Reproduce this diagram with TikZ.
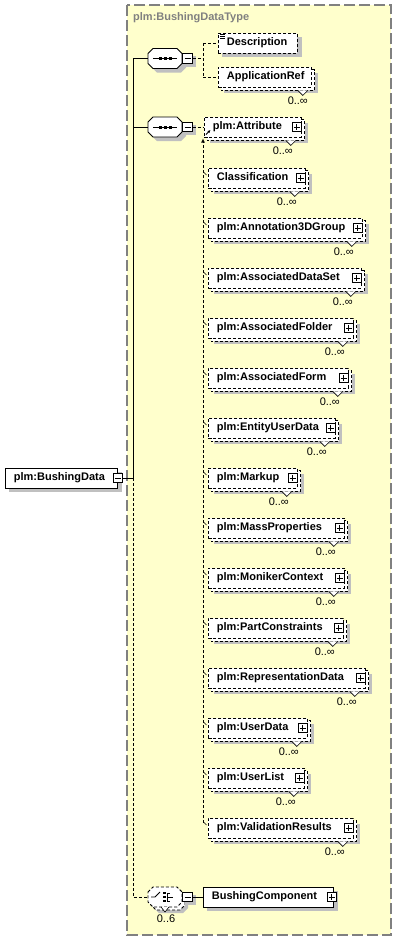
\documentclass[tikz,border=0pt]{standalone}
\usepackage{fontspec}
\setmainfont{Liberation Sans}
\usetikzlibrary{calc,arrows.meta}
\pgfdeclarelayer{bg}
\pgfdeclarelayer{shad}
\pgfsetlayers{bg,shad,main}
\definecolor{ylw}{HTML}{FFFFCC}
\definecolor{shd}{HTML}{C0C0C0}
\definecolor{brd}{HTML}{808080}
\newcommand\octo[3]{\path[#1,shift={(#2,#3)}] (-17,-5) -- (-12,-10) -- (12,-10) -- (17,-5) -- (17,5) -- (12,10) -- (-12,10) -- (-17,5) -- cycle;}
\begin{document}
\begin{tikzpicture}[x=1pt,y=-1pt,
  lbl/.style={font=\bfseries\fontsize{11}{13}\selectfont, text height=8pt, text depth=2.5pt},
  ebox/.style={lbl, fill=white, draw, line width=0.8pt, anchor=west, minimum height=20pt, inner xsep=8.5pt, inner ysep=0pt, align=left},
  opt/.style={dash pattern=on 3pt off 2pt},
  pm/.style={draw, fill=white, solid, line width=0.7pt, minimum size=9.5pt, inner sep=0pt},
  card/.style={font=\fontsize{11}{13}\selectfont, inner sep=0pt},
  conn/.style={line width=0.8pt},
  notch/.style={fill=white, draw, line width=0.6pt, solid}]
% background
\begin{pgfonlayer}{bg}
\fill[white] (0,0) rectangle (396,940);
\filldraw[fill=ylw, draw=brd, line width=1.2pt, dash pattern=on 11pt off 4pt] (127,5) rectangle (391,935);
\end{pgfonlayer}
\node[lbl, text=brd, anchor=west, inner sep=0pt] (title) at (133,18) {plm:BushingDataType};

% root element
\node[ebox, text width=95pt] (root) at (5,478) {plm:BushingData};
\begin{pgfonlayer}{shad}
\fill[shd] ($(root.north west)+(4,4)$) rectangle ($(root.south east)+(4,4)$);
\end{pgfonlayer}
\node[pm] (rootm) at (root.east) {};
\draw[line width=0.7pt] ($(rootm.center)+(-3,0)$) -- ++(6,0);

% spine
\coordinate (spA) at (133,58.5);
\coordinate (spB) at (133,127);
\coordinate (spR) at (133,478);
\coordinate (spC) at (133,897);

% sequence 1
\begin{pgfonlayer}{shad}\octo{fill=shd}{169}{62.5}\end{pgfonlayer}
\octo{fill=white,draw,conn}{165}{58.5}
\node[minimum width=34pt, minimum height=20pt, inner sep=0pt] (sq1) at (165,58.5) {};
\draw[conn] (153,58.5) -- (177,58.5);
\foreach \xx in {160,165,170} \fill (\xx-1.5,57) rectangle (\xx+1.5,60);
\node[pm] (sq1m) at (187.5,58.5) {};
\begin{pgfonlayer}{shad}\fill[shd] ($(sq1m.north west)+(3,3)$) rectangle ($(sq1m.south east)+(3,3)$);\end{pgfonlayer}
\draw[line width=0.7pt] ($(sq1m.center)+(-3,0)$) -- ++(6,0);

% sequence 2
\begin{pgfonlayer}{shad}\octo{fill=shd}{169}{131}\end{pgfonlayer}
\octo{fill=white,draw,conn}{165}{127}
\node[minimum width=34pt, minimum height=20pt, inner sep=0pt] (sq2) at (165,127) {};
\draw[conn] (153,127) -- (177,127);
\foreach \xx in {160,165,170} \fill (\xx-1.5,125.5) rectangle (\xx+1.5,128.5);
\node[pm] (sq2m) at (187.5,127) {};
\begin{pgfonlayer}{shad}\fill[shd] ($(sq2m.north west)+(3,3)$) rectangle ($(sq2m.south east)+(3,3)$);\end{pgfonlayer}
\draw[line width=0.7pt] ($(sq2m.center)+(-3,0)$) -- ++(6,0);

% choice
\begin{pgfonlayer}{shad}
\octo{fill=shd}{171}{903}
\octo{fill=white,draw,conn,opt}{168}{900}
\end{pgfonlayer}
\octo{fill=white,draw,conn,opt}{165}{897}
\node[minimum width=34pt, minimum height=20pt, inner sep=0pt] (ch) at (165,897) {};
\draw[notch] (161,907) -- (165,912) -- (169,907);
\draw[conn] (151,897) -- (155,897) -- (160,892);
\foreach \yy in {893,897,901} \fill (162.5,\yy-1.3) rectangle (165.5,\yy+1.3);
\draw[line width=0.7pt] (167,893) -- (167,901) (167,897) -- (173,897) (167,893) -- (170,893) (167,901) -- (170,901);
\node[card] (chc) at (166,919) {0..6};
\node[pm] (chm) at (187.5,897) {};
\begin{pgfonlayer}{shad}\fill[shd] ($(chm.north west)+(3,3)$) rectangle ($(chm.south east)+(3,3)$);\end{pgfonlayer}
\draw[line width=0.7pt] ($(chm.center)+(-3,0)$) -- ++(6,0);

% BushingComponent
\node[ebox, text width=113pt] (bc) at (203,897) {BushingComponent};
\begin{pgfonlayer}{shad}\fill[shd] ($(bc.north west)+(4,4)$) rectangle ($(bc.south east)+(4,4)$);\end{pgfonlayer}
\node[pm] (bcp) at ($(bc.east)+(-2,0)$) {};
\draw[line width=0.7pt] ($(bcp.center)+(-3,0)$) -- ++(6,0) ($(bcp.center)+(0,-3)$) -- ++(0,6);

% Description
\node[ebox, opt, text width=62pt] (desc) at (218,43) {Description};
\begin{pgfonlayer}{shad}\fill[shd] ($(desc.north west)+(4,4)$) rectangle ($(desc.south east)+(4,4)$);\end{pgfonlayer}
\draw[line width=0.6pt] (220,34.5) -- (225,34.5) (220,36.5) -- (225,36.5) (220,38.5) -- (225,38.5);

% ApplicationRef
\node[ebox, opt, text width=76pt] (appr) at (218,77) {ApplicationRef};
\begin{pgfonlayer}{shad}
\fill[shd] ($(appr.north west)+(6,6)$) rectangle ($(appr.south east)+(6,6)$);
\filldraw[fill=white, line width=0.8pt, opt] ($(appr.north west)+(3,3)$) rectangle ($(appr.south east)+(3,3)$);
\end{pgfonlayer}
\draw[notch] ($(appr.south east)+(-14,3)$) -- ++(5,5) -- ++(5,-5);
\node[card] (apprc) at ($(appr.south east)+(-14,13)$) {0..∞};

% Attribute
\node[ebox, opt, text width=80pt] (attr) at (204,127) {plm:Attribute};
\begin{pgfonlayer}{shad}
\fill[shd] ($(attr.north west)+(6,6)$) rectangle ($(attr.south east)+(6,6)$);
\filldraw[fill=white, line width=0.8pt, opt] ($(attr.north west)+(3,3)$) rectangle ($(attr.south east)+(3,3)$);
\end{pgfonlayer}
\draw[notch] ($(attr.south east)+(-16,3)$) -- ++(5,5) -- ++(5,-5);
\node[card] (attrc) at ($(attr.south east)+(-19,13)$) {0..∞};
\node[pm] (attrp) at ($(attr.east)+(-5,0)$) {};
\draw[line width=0.7pt] ($(attrp.center)+(-3,0)$) -- ++(6,0) ($(attrp.center)+(0,-3)$) -- ++(0,6);
\draw[line width=0.8pt, -{Latex[length=3pt,width=3pt]}] (206,134.5) -- (210.5,130);

% other elements
\foreach \n/\y/\r/\t in {
 cls/178/305/Classification,
 ann/228/362/plm:Annotation3DGroup,
 ads/278/361/plm:AssociatedDataSet,
 afo/328/353/plm:AssociatedFolder,
 afm/378/348/plm:AssociatedForm,
 eud/428/335/plm:EntityUserData,
 mku/478/297/plm:Markup,
 mpr/528/344/plm:MassProperties,
 mon/578/344/plm:MonikerContext,
 pcn/628/343/plm:PartConstraints,
 rep/678/365/plm:RepresentationData,
 usd/728/307/plm:UserData,
 usl/778/304/plm:UserList,
 val/828/353/plm:ValidationResults}
{
 \pgfmathsetmacro\tw{\r-208-17}
 \node[ebox, opt, text width=\tw pt] (\n) at (208,\y) {\t};
 \begin{pgfonlayer}{shad}
 \fill[shd] ($(\n.north west)+(6,6)$) rectangle ($(\n.south east)+(6,6)$);
 \filldraw[fill=white, line width=0.8pt, opt] ($(\n.north west)+(3,3)$) rectangle ($(\n.south east)+(3,3)$);
 \end{pgfonlayer}
 \draw[notch] ($(\n.south east)+(-16,3)$) -- ++(5,5) -- ++(5,-5);
 \node[card] (c\n) at ($(\n.south east)+(-19,13)$) {0..∞};
 \node[pm] (p\n) at ($(\n.east)+(-5,0)$) {};
 \draw[line width=0.7pt] ($(p\n.center)+(-3,0)$) -- ++(6,0) ($(p\n.center)+(0,-3)$) -- ++(0,6);
 \draw[line width=0.6pt] (203.5,\y-6) -- (206.5,\y-3);
}

% connectors
\draw[conn] (rootm.east) -- (spR);
\draw[conn] (spA) -- (spR);
\draw[conn] (spA) -- (sq1.west);
\draw[conn] (spB) -- (sq2.west);
\draw[conn, opt] (spR) -- (spC) -- (ch.west);
\draw[conn, opt] (sq1m.east) -- (203,58.5);
\draw[conn, opt] (203,43) -- (203,77);
\draw[conn, opt] (203,43) -- (desc.west);
\draw[conn, opt] (203,77) -- (appr.west);
\draw[conn, opt] (sq2m.east) -- (attr.west);
\draw[conn] (chm.east) -- (bc.west);
\draw[conn, opt, -{Latex[length=4pt,width=4pt]}] (203,823) -- (203,138.5);
\end{tikzpicture}
\end{document}
